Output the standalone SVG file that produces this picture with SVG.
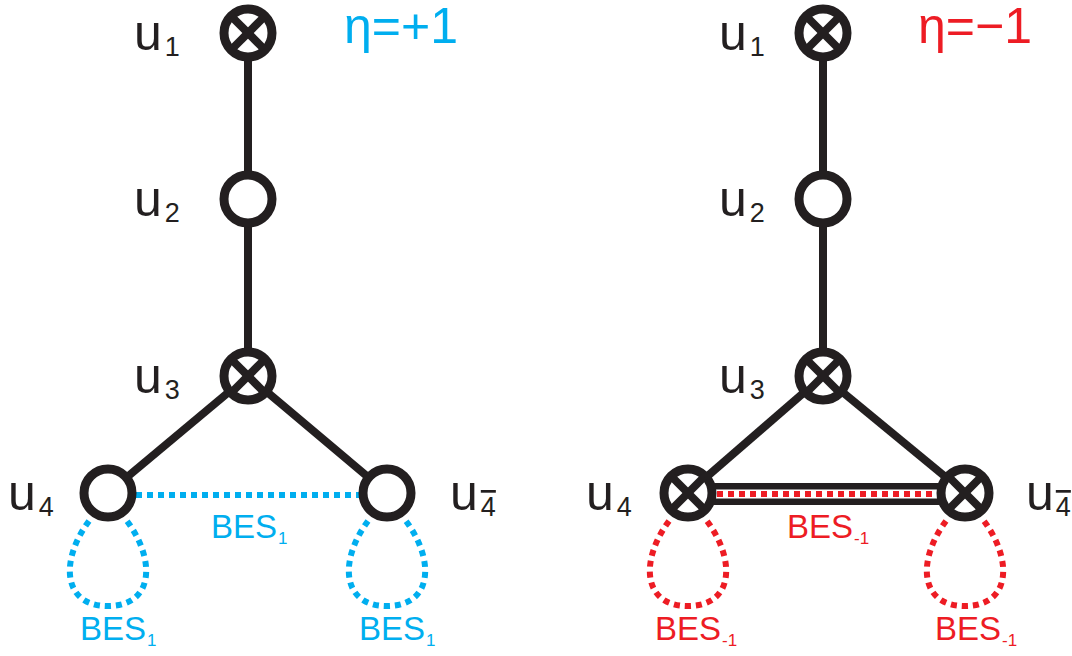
<svg xmlns="http://www.w3.org/2000/svg" width="1072" height="656" viewBox="0 0 1072 656">
<style>
.edge{stroke:#231f20;stroke-width:8;fill:none}
.node{fill:#fff;stroke:#231f20;stroke-width:9}
.x{stroke:#231f20;stroke-width:8}
.lbl{font-family:"Liberation Sans",Arial,sans-serif;font-size:50px;fill:#231f20}
.sub{font-size:27px}
.bes{font-family:"Liberation Sans",Arial,sans-serif;font-size:33px}
.bsub{font-size:17px}
.blue{fill:#00aeef}
.red{fill:#ed1c24}
.bdot{stroke:#00aeef;stroke-width:6;stroke-dasharray:6 5;fill:none}
.rdot{stroke:#ed1c24;stroke-width:6;stroke-dasharray:6 5;fill:none}
</style>
<rect width="1072" height="656" fill="#fff"/>
<defs>
<g id="cross">
<circle r="24" class="node"/>
<line x1="-16" y1="-16" x2="16" y2="16" class="x"/>
<line x1="16" y1="-16" x2="-16" y2="16" class="x"/>
</g>
<g id="open"><circle r="24" class="node"/></g>
</defs>
<g id="connectors">
<line x1="248" y1="33" x2="248" y2="376" class="edge"/>
<line x1="248" y1="376" x2="108" y2="493" class="edge"/>
<line x1="248" y1="376" x2="387" y2="493" class="edge"/>
<line x1="136" y1="495" x2="360" y2="495" class="bdot"/>
<path d="M89 521 C60 560 62 606 108 606 C154 606 156 560 127 521" class="bdot"/>
<path d="M368 521 C339 560 341 606 387 606 C433 606 435 560 406 521" class="bdot"/>
<line x1="823" y1="33" x2="823" y2="376" class="edge"/>
<line x1="823" y1="376" x2="688" y2="493" class="edge"/>
<line x1="823" y1="376" x2="965" y2="493" class="edge"/>
<line x1="700" y1="494" x2="950" y2="494" stroke="#231f20" stroke-width="22"/>
<line x1="715" y1="494" x2="938" y2="494" stroke="#fff" stroke-width="9"/>
<line x1="717" y1="494" x2="938" y2="494" class="rdot"/>
<path d="M669 521 C640 560 642 606 688 606 C734 606 736 560 707 521" class="rdot"/>
<path d="M946 521 C917 560 919 606 965 606 C1011 606 1013 560 984 521" class="rdot"/>
</g>
<g id="u1-left"><use href="#cross" x="248" y="33"/><text class="lbl" x="134" y="50">u<tspan class="sub" dx="3" dy="6">1</tspan></text></g>
<g id="u2-left"><use href="#open" x="248" y="199"/><text class="lbl" x="134" y="216">u<tspan class="sub" dx="3" dy="6">2</tspan></text></g>
<g id="u3-left"><use href="#cross" x="248" y="376"/><text class="lbl" x="134" y="393">u<tspan class="sub" dx="3" dy="6">3</tspan></text></g>
<g id="u4-left"><use href="#open" x="108" y="493"/><text class="lbl" x="8" y="510">u<tspan class="sub" dx="3" dy="6">4</tspan></text></g>
<g id="u4bar-left"><use href="#open" x="387" y="493"/><text class="lbl" x="450" y="510">u<tspan class="sub" dx="3" dy="6" text-decoration="overline">4</tspan></text></g>
<text class="lbl blue" x="344" y="43" font-size="46">η=+1</text>
<text class="bes blue" x="211" y="538">BES<tspan class="bsub" dx="1" dy="6">1</tspan></text>
<text class="bes blue" x="80" y="640">BES<tspan class="bsub" dx="1" dy="6">1</tspan></text>
<text class="bes blue" x="359" y="640">BES<tspan class="bsub" dx="1" dy="6">1</tspan></text>
<g id="u1-right"><use href="#cross" x="823" y="33"/><text class="lbl" x="719" y="50">u<tspan class="sub" dx="3" dy="6">1</tspan></text></g>
<g id="u2-right"><use href="#open" x="823" y="199"/><text class="lbl" x="719" y="216">u<tspan class="sub" dx="3" dy="6">2</tspan></text></g>
<g id="u3-right"><use href="#cross" x="823" y="376"/><text class="lbl" x="719" y="393">u<tspan class="sub" dx="3" dy="6">3</tspan></text></g>
<g id="u4-right"><use href="#cross" x="688" y="493"/><text class="lbl" x="586" y="510">u<tspan class="sub" dx="3" dy="6">4</tspan></text></g>
<g id="u4bar-right"><use href="#cross" x="965" y="493"/><text class="lbl" x="1026" y="510">u<tspan class="sub" dx="2" dy="6" text-decoration="overline">4</tspan></text></g>
<text class="lbl red" x="918" y="43" font-size="46">η=−1</text>
<text class="bes red" x="787" y="538">BES<tspan class="bsub" dx="1" dy="6">-1</tspan></text>
<text class="bes red" x="655" y="640">BES<tspan class="bsub" dx="1" dy="6">-1</tspan></text>
<text class="bes red" x="935" y="640">BES<tspan class="bsub" dx="1" dy="6">-1</tspan></text>
</svg>
